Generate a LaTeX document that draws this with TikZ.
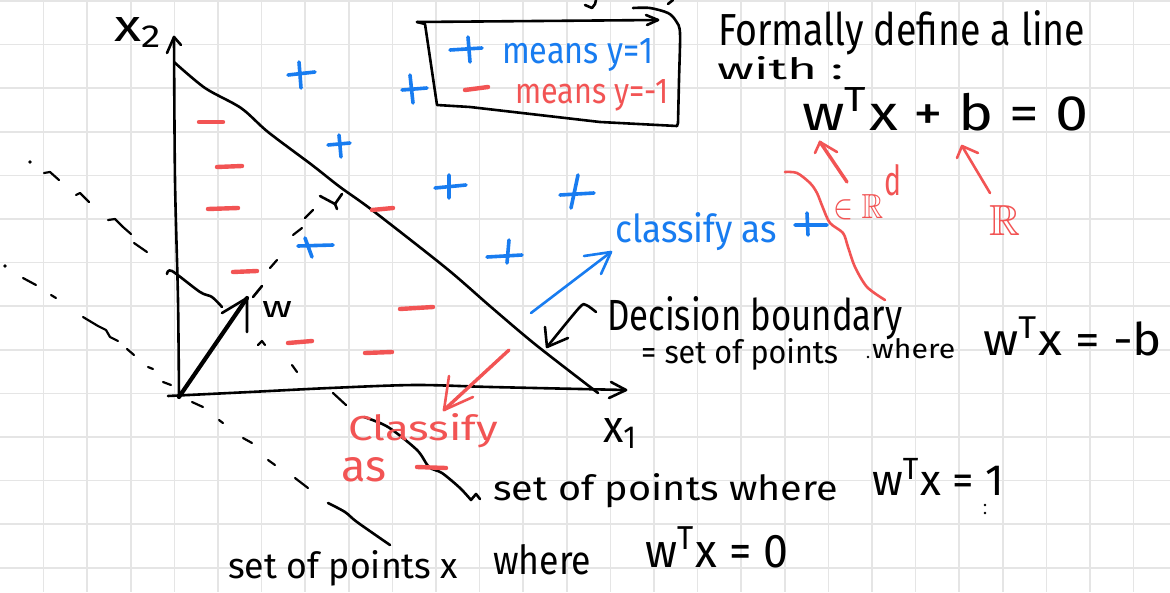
\documentclass[tikz,border=0pt]{standalone}
\usepackage{fontspec}
\setmainfont{Fira Sans}
\usepackage{amssymb}
\usepackage{graphicx}
\definecolor{inkblue}{RGB}{24,124,240}
\definecolor{inkred}{RGB}{242,84,84}
\definecolor{gridc}{RGB}{229,229,229}
\newcommand{\fwh}[3]{\resizebox{#1pt}{#2pt}{#3}}
\newcommand{\fw}[2]{\resizebox{#1pt}{!}{#2}}
\tikzset{
  gridline/.style={draw=gridc, line width=1.6pt},
  ink/.style={draw=black, line width=2.6pt, line cap=round, line join=round},
  thinink/.style={draw=black, line width=2.2pt, line cap=round, line join=round},
  bink/.style={draw=inkblue, line width=2.6pt, line cap=round, line join=round},
  rink/.style={draw=inkred, line width=2.6pt, line cap=round, line join=round},
  bplus/.style={draw=inkblue, line width=3.6pt, line cap=round},
  rminus/.style={draw=inkred, line width=4.4pt, line cap=round},
  txt/.style={inner sep=0pt, text=black},
  btxt/.style={inner sep=0pt, text=inkblue},
  rtxt/.style={inner sep=0pt, text=inkred},
}
\begin{document}
\begin{tikzpicture}[x=1pt,y=-1pt]
\fill[white] (0,0) rectangle (1170,592);
\useasboundingbox (0,0) rectangle (1170,592);
\foreach \i in {1,...,26} \draw[gridline] ({43.6*\i},0) -- ({43.6*\i},592);
\foreach \j in {0,...,13} \draw[gridline] (0,{1+43.6*\j}) -- (1170,{1+43.6*\j});

% ---------- key points ----------
\coordinate (O) at (179,397);
\coordinate (X2) at (174,37);
\coordinate (X1) at (626,390);
\coordinate (wtip) at (247,298);

% ---------- axes ----------
\draw[ink] plot[smooth] coordinates {(O) (178,300) (175,180) (X2)};
\draw[ink] (167,53) -- (X2) -- (181,45);
\draw[ink] plot[smooth] coordinates {(168,396) (250,392) (330,388) (415,385) (491,387) (X1)};
\draw[ink] (611,382) -- (X1) -- (609,398);
\node[txt, anchor=base west] (x2l) at (114,41) {\fwh{49}{24}{x\textsubscript{2}}};
\node[txt, anchor=base west] (x1l) at (603,442) {\fwh{35}{24}{x\textsubscript{1}}};

% ---------- decision boundary ----------
\draw[ink] plot[smooth, tension=0.5] coordinates {(174,62) (205,88) (241,108) (268,132) (312,165) (340,187) (372,210) (446,268) (491,307) (536,345) (598,393)};

% ---------- line w^T x = 1 ----------
\fill (30,162) circle (1.8);
\draw[thinink] (44,173) -- (50,172) -- (59,180);
\draw[thinink] (76,195) -- (80,193) -- (89,202);
\draw[thinink] (108,220) -- (115,219) -- (123,227) -- (131,234);
\draw[thinink] (134,243) -- (147,252);
\draw[ink] plot[smooth] coordinates {(167,274) (172,271) (200,292) (212,297) (222,307)};
\draw[thinink] (258,345) -- (262,341) -- (265,345);
\draw[thinink] (292,365) -- (297,372);
\draw[thinink] (333,393) -- (346,405);
\coordinate (c1end) at (476,494);
\draw[ink] plot[smooth] coordinates {(364,417) (388,427) (417,450) (429,467) (442,473) (460,488) (471,500)} -- (c1end) -- (480,499);

% ---------- line w^T x = 0 ----------
\fill (5,266) circle (1.8);
\draw[thinink] (23,278) -- (36,285);
\draw[thinink] (51,295) -- (56,298);
\draw[thinink] (83,317) -- (98,326) -- (106,330) -- (110,337) -- (118,341);
\draw[thinink] (127,349) -- (134,355);
\draw[thinink] (148,367) -- (153,369);
\draw[thinink] (163,382) -- (171,385);
\draw[thinink] (192,402) -- (203,407);
\draw[thinink] (219,420) -- (223,423);
\draw[thinink] (243,438) -- (252,443);
\draw[thinink] (268,460) -- (275,465);
\draw[thinink] (295,478) -- (308,488);
\draw[ink] plot[smooth] coordinates {(328,503) (345,512) (357,522) (390,545)};

% ---------- w vector ----------
\draw[ink, line width=4.2pt] (O) -- (wtip);
\draw[ink] (222,313) -- (wtip) -- (247,332);
\draw[ink] (253,297) -- (262,286);
\node[txt, anchor=base west] (wl) at (262,317) {\fwh{30}{16}{w}};

% ---------- perpendicular + right angle ----------
\draw[thinink] (270,268) -- (277,260);
\draw[thinink] (293,235) -- (302,228);
\draw[thinink] (305,218) -- (313,210);
\draw[ink] (320,196) -- (335,204) -- (342,194);
\draw[ink] (335,204) -- (337,209);

% ---------- blue + markers ----------
\draw[bplus] (288,75) -- (315,72) (299,62) -- (301,88);
\draw[bplus] (402,90) -- (427,88) (410,75) -- (413,103);
\draw[bplus] (328,145) -- (350,143) (339,135) -- (341,157);
\draw[bplus] (435,188) -- (466,185) (449,175) -- (449,198);
\draw[bplus] (560,195) -- (594,193) (578,175) -- (571,208);
\draw[bplus] (298,246) -- (333,245) (305,238) -- (312,257);
\draw[bplus] (487,257) -- (522,255) (509,240) -- (507,263);

% ---------- red - markers ----------
\draw[rminus] (199,122) -- (223,122);
\draw[rminus] (217,167) -- (242,166);
\draw[rminus] (208,209) -- (238,208);
\draw[rminus] (233,272) -- (257,271);
\draw[rminus] (372,210) -- (393,208);
\draw[rminus] (288,343) -- (312,341);
\draw[rminus] (365,353) -- (392,352);
\draw[rminus] (400,309) -- (433,307);

% ---------- legend box ----------
\draw[ink] (417,22) -- (425,24) -- (437,105) -- (470,107) -- (600,122) -- (677,126);
\draw[ink] (417,22) -- (658,20);
\draw[ink] (646,15) -- (658,20) -- (647,25);
\draw[ink] plot[smooth] coordinates {(633,8) (650,8) (668,13) (676,21) (680,33) (679,80) (678,123)} -- (677,126);
\draw[ink] (585,5) -- (592,8) -- (595,4) -- (596,0);
\draw[ink] (668,4) -- (673,0);
\draw[bplus] (450,50) -- (482,48) (468,37) -- (470,62);
\node[btxt, anchor=base west] (lg1) at (502,63) {\fwh{151}{25}{means y=1}};
\draw[rminus] (465,90) -- (488,87);
\node[rtxt, anchor=base west] (lg2) at (515,103) {\fwh{153}{24}{means y=-1}};

% ---------- right-hand definition ----------
\node[txt, anchor=base west] (title) at (718,45) {\fwh{367}{35}{Formally define a line}};
\node[txt, anchor=base west] (with) at (717,79) {\fwh{126}{23}{with :}};
\node[txt, anchor=base west] (eq) at (802,130) {\fwh{286}{42}{w\textsuperscript{T}x + b = 0}};
\coordinate (wpt) at (820,142);
\coordinate (bpt) at (962,146);
\node[rtxt, anchor=base west] (inR) at (833,218) {\fwh{50}{24}{$\in\mathbb{R}$}};
\node[rtxt, anchor=south west] (dsup) at (884,196) {\fwh{17}{31}{d}};
\node[rtxt, anchor=base west] (Rb) at (989,235) {\fwh{31}{30}{$\mathbb{R}$}};
\draw[rink, line width=3.4pt] (847,182) -- (wpt);
\draw[rink] (815,153) -- (wpt) -- (837,152);
\draw[rink] (990,193) -- (bpt);
\draw[rink] (957,158) -- (bpt) -- (978,153);
\draw[rink] plot[smooth] coordinates {(785,172) (797,173) (810,183) (817,193) (823,208) (830,223) (843,233) (848,247) (855,267) (867,287) (885,300)};

% ---------- classify as + ----------
\node[btxt, anchor=base west] (clsp) at (615,242) {\fwh{162}{30}{classify as}};
\draw[bplus] (795,225) -- (827,225) (807,213) -- (808,235);
\coordinate (barr) at (611,252);
\draw[bink] (531,313) -- (barr);
\draw[bink] (584,256) -- (barr) -- (601,274);

% ---------- decision boundary label ----------
\node[txt, anchor=base west] (db) at (607,330) {\fwh{295}{34}{Decision boundary}};
\node[txt, anchor=base west] (sp1) at (641,363) {\fwh{197}{25}{= set of points}};
\fill (868,357) circle (1.4);
\node[txt, anchor=base west] (wh1) at (872,358) {\fwh{83}{20}{where}};
\node[txt, anchor=base west] (eqb) at (983,355) {\fwh{179}{38}{w\textsuperscript{T}x = -b}};
\coordinate (darr) at (547,347);
\draw[ink] plot[smooth] coordinates {(596,312) (586,305) (579,308) (darr)};
\draw[ink] (545,327) -- (darr) -- (568,338);

% ---------- classify as - ----------
\node[rtxt, anchor=base west] (cls) at (348,440) {\fwh{150}{27}{Classify}};
\node[rtxt, anchor=base west] (as) at (341,481) {\fwh{45}{24}{as}};
\draw[rminus] (417,467) -- (446,468);
\coordinate (rarr) at (444,410);
\draw[rink, line width=3.4pt] (509,350) -- (rarr);
\draw[rink] (449,376) -- (rarr) -- (473,397);

% ---------- bottom labels ----------
\node[txt, anchor=base west] (sp2) at (493,500) {\fwh{345}{27}{set of points where}};
\node[txt, anchor=base west] (eq1) at (872,495) {\fwh{132}{37}{w\textsuperscript{T}x = 1}};
\fill (985,505) circle (1.3);
\fill (985,513) circle (1.3);
\node[txt, anchor=base west] (sp3) at (228,578) {\fwh{230}{28}{set of points x}};
\node[txt, anchor=base west] (wh3) at (493,574) {\fwh{98}{30}{where}};
\node[txt, anchor=base west] (eq0) at (645,567) {\fwh{143}{40}{w\textsuperscript{T}x = 0}};
\end{tikzpicture}
\end{document}
